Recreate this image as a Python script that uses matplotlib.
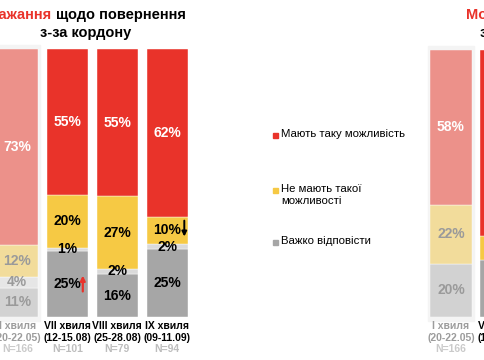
import matplotlib.pyplot as plt
from matplotlib.patches import Rectangle

plt.rcParams['font.family'] = ['Liberation Sans', 'DejaVu Sans']

# left chart: wish to return
waves_left = ["І хвиля", "VII хвиля", "VIII хвиля", "IX хвиля"]
dates_left = ["(20-22.05)", "(12-15.08)", "(25-28.08)", "(09-11.09)"]
n_left = ["N=166", "N=101", "N=79", "N=94"]
want_yes = [73, 55, 55, 62]
want_no = [12, 20, 27, 10]
want_small = [4, 1, 2, 2]
want_dk = [11, 25, 16, 25]

# right chart: possibility to return
waves_right = ["І хвиля", "VII хвиля"]
dates_right = ["(20-22.05)", "(12-15.08)"]
n_right = ["N=166", "N=101"]
can_yes = [58, 69]
can_no = [22, 9]
can_dk = [20, 21]

legend_labels = ["Мають таку можливість", "Не мають такої\nможливості", "Важко відповісти"]

RED, YEL, LGR, GRY = "#E9332A", "#F6C944", "#DADADA", "#A6A6A6"
F_RED, F_YEL, F_LGR, F_GRY = "#EC918A", "#F2DC9B", "#E6E6E6", "#D2D2D2"

W, H = 485, 360
fig = plt.figure(figsize=(4.85, 3.6), dpi=100)
fig.patch.set_facecolor("white")


def px_axes(x0, x1, y_top, y_bot):
    ax = fig.add_axes([x0 / W, 1 - y_bot / H, (x1 - x0) / W, (y_bot - y_top) / H])
    ax.set_ylim(0, 100)
    ax.axis("off")
    return ax


def stacked(ax, segs, waves, dates, ns):
    # segs: list of (values, color, faded color, text color, faded text color), bottom to top
    nb = len(waves)
    for i in range(nb):
        faded = i == 0
        total = sum(s[0][i] for s in segs)
        bottom = 0
        if faded:
            ax.add_patch(Rectangle((i - 0.46, -1.5), 0.92, 103, color="#F4F4F4",
                                   zorder=0, clip_on=False))
        for vals, col, fcol, tcol, ftcol in segs:
            h = vals[i] * 100 / total
            ax.bar(i, h, bottom=bottom, width=0.83, color=fcol if faded else col,
                   edgecolor="white", linewidth=0.3, zorder=2)
            ax.text(i, bottom + h / 2, f"{vals[i]}%", ha="center", va="center",
                    fontsize=10, fontweight="bold", color=ftcol if faded else tcol, zorder=3)
            bottom += h
        c1 = "#9C9C9C" if faded else "black"
        c3 = "#CACACA" if faded else "#BDBDBD"
        ax.text(i, -3.5, waves[i], ha="center", va="center", fontsize=7.5,
                fontweight="bold", color=c1, clip_on=False)
        ax.text(i, -7.7, dates[i], ha="center", va="center", fontsize=7.5,
                fontweight="bold", color=c1, clip_on=False)
        ax.text(i, -12.0, ns[i], ha="center", va="center", fontsize=7.5,
                fontweight="bold", color=c3, clip_on=False)


axL = px_axes(0, 200, 49, 317)
axL.set_xlim(-0.346, 3.654)
stacked(axL, [
    (want_dk, GRY, F_GRY, "black", "#9A9A9A"),
    (want_small, LGR, F_LGR, "black", "#9A9A9A"),
    (want_no, YEL, F_YEL, "black", "#9A9A9A"),
    (want_yes, RED, F_RED, "white", "white"),
], waves_left, dates_left, n_left)

# change arrows
axL.annotate("", xy=(1.31, 16.5), xytext=(1.31, 8.5),
             arrowprops=dict(arrowstyle="-|>", color=RED, lw=1.6, mutation_scale=7), zorder=4)
axL.annotate("", xy=(3.34, 29), xytext=(3.34, 37),
             arrowprops=dict(arrowstyle="-|>", color="black", lw=1.4, mutation_scale=7), zorder=4)

axR = px_axes(400, 485, 50, 317)
axR.set_xlim(-1.02, 0.68)
stacked(axR, [
    (can_dk, GRY, F_GRY, "black", "#9A9A9A"),
    (can_no, YEL, F_YEL, "black", "#9A9A9A"),
    (can_yes, RED, F_RED, "white", "white"),
], waves_right, dates_right, n_right)

# titles
fig.text(51 / W, 1 - 15 / H, "Бажання", ha="right", va="center", fontsize=10.5,
         fontweight="bold", color=RED)
fig.text(56 / W, 1 - 15 / H, "щодо повернення", ha="left", va="center", fontsize=10.5,
         fontweight="bold", color="black")
fig.text(86 / W, 1 - 33 / H, "з-за кордону", ha="center", va="center", fontsize=10.5,
         fontweight="bold", color="black")
fig.text(466 / W, 1 - 15 / H, "Можливість повернення", ha="left", va="center",
         fontsize=10.5, fontweight="bold", color=RED)
fig.text(480 / W, 1 - 33 / H, "з-за кордону", ha="left", va="center", fontsize=10.5,
         fontweight="bold", color="black")

# legend
for lab, col, y in zip(legend_labels, [RED, YEL, GRY], [135, 190, 242]):
    fig.patches.append(Rectangle((273 / W, 1 - (y + 2.5) / H), 5 / W, 5 / H, color=col,
                                 transform=fig.transFigure, figure=fig))
    fig.text(281 / W, 1 - (y - 6) / H, lab, ha="left", va="top", fontsize=8.2,
             color="black", linespacing=1.2)

fig.savefig("out.png", dpi=100)
